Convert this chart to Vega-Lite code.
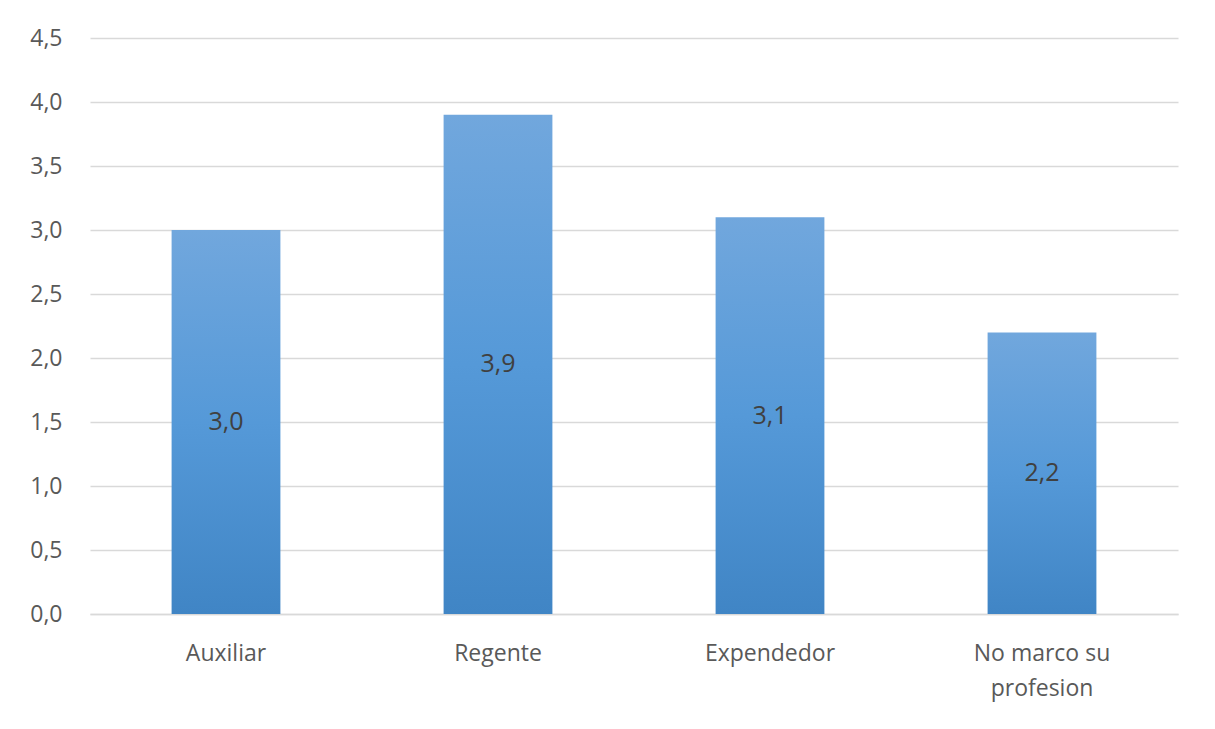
{
  "$schema": "https://vega.github.io/schema/vega-lite/v6.json",
  "width": 1088,
  "height": 576,
  "autosize": {"type": "none"},
  "padding": {"left": 90, "top": 38, "right": 37, "bottom": 115},
  "background": "white",
  "config": {
    "font": "Open Sans",
    "view": {"stroke": null}
  },
  "data": {
    "values": [
      {"cat": "Auxiliar", "value": 3.0},
      {"cat": "Regente", "value": 3.9},
      {"cat": "Expendedor", "value": 3.1},
      {"cat": "No marco su profesion", "value": 2.2}
    ]
  },
  "transform": [
    {"calculate": "datum.value / 2", "as": "mid"},
    {"calculate": "replace(format(datum.value, '.1f'), '.', ',')", "as": "lbl"}
  ],
  "encoding": {
    "x": {
      "field": "cat",
      "type": "nominal",
      "sort": null,
      "scale": {"paddingInner": 0.6, "paddingOuter": 0.3},
      "axis": {
        "title": null,
        "labelAngle": 0,
        "labelFontSize": 23,
        "labelColor": "#595959",
        "labelPadding": 28,
        "ticks": false,
        "domainColor": "#d9d9d9",
        "domainWidth": 1.5,
        "labelLineHeight": 35,
        "labelExpr": "datum.label == 'No marco su profesion' ? ['No marco su', 'profesion'] : datum.label"
      }
    }
  },
  "layer": [
    {
      "mark": {
        "type": "bar",
        "color": {
          "x1": 0, "y1": 0, "x2": 0, "y2": 1,
          "gradient": "linear",
          "stops": [
            {"offset": 0, "color": "#71a7dd"},
            {"offset": 0.5, "color": "#5599d8"},
            {"offset": 1, "color": "#4085c5"}
          ]
        }
      },
      "encoding": {
        "y": {
          "field": "value",
          "type": "quantitative",
          "scale": {"domain": [0, 4.5], "nice": false},
          "axis": {
            "title": null,
            "values": [0, 0.5, 1, 1.5, 2, 2.5, 3, 3.5, 4, 4.5],
            "labelExpr": "replace(format(datum.value, '.1f'), '.', ',')",
            "labelFontSize": 23,
            "labelColor": "#595959",
            "labelPadding": 28,
            "ticks": false,
            "domain": false,
            "gridColor": "#d9d9d9",
            "gridWidth": 1.5
          }
        }
      }
    },
    {
      "mark": {"type": "text", "fontSize": 25, "color": "#404040"},
      "encoding": {
        "y": {"field": "mid", "type": "quantitative"},
        "text": {"field": "lbl", "type": "nominal"}
      }
    }
  ]
}
